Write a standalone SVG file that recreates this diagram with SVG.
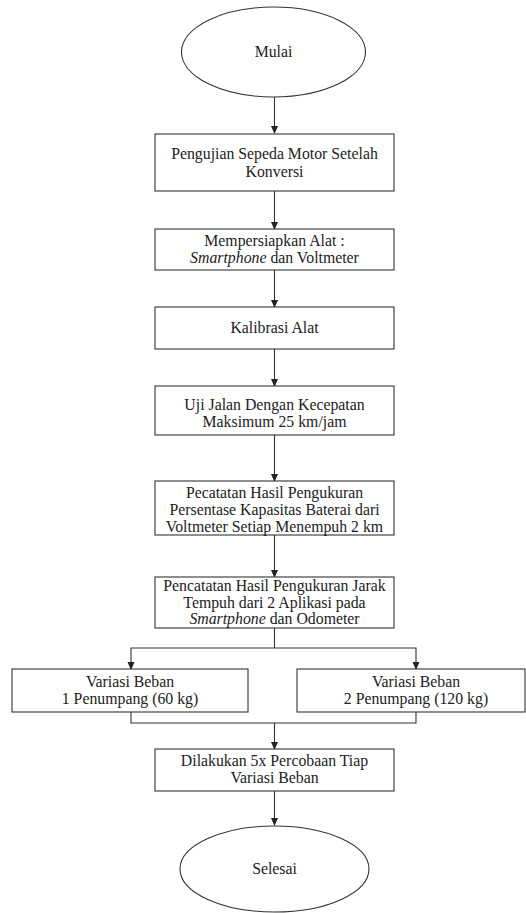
<svg xmlns="http://www.w3.org/2000/svg" width="526" height="913" viewBox="0 0 526 913">
<defs>
<marker id="ah" markerWidth="8" markerHeight="8" refX="7" refY="4" orient="auto" markerUnits="userSpaceOnUse">
<path d="M0,0.5 L8,4 L0,7.5 Z" fill="#222"/>
</marker>
<style>
.s{fill:#fff;stroke:#333;stroke-width:1.1}
.t{font-family:'Liberation Serif','Times New Roman',serif;font-size:15.8px;fill:#222;text-anchor:middle}
.c{fill:none;stroke:#333;stroke-width:1.1}
.a{fill:none;stroke:#333;stroke-width:1.1;marker-end:url(#ah)}
</style>
</defs>
<rect width="526" height="913" fill="#fff"/>
<g id="connectors">
<path class="a" d="M274.5,97 V133"/>
<path class="a" d="M274.5,191 V229"/>
<path class="a" d="M274.5,270 V307"/>
<path class="a" d="M274.5,349 V386"/>
<path class="a" d="M274.5,435 V481"/>
<path class="a" d="M274.5,535 V577"/>
<path class="c" d="M274.5,628 V648"/>
<path class="a" d="M274.5,648 H131 V669"/>
<path class="a" d="M274.5,648 H416 V669"/>
<path class="c" d="M131,712 V723 H416 V712"/>
<path class="a" d="M274.5,723 V749"/>
<path class="a" d="M274.5,791 V825"/>
</g>
<g id="mulai">
<ellipse class="s" cx="273.5" cy="52" rx="92" ry="45"/>
<text class="t" x="273.5" y="57">Mulai</text>
</g>
<g id="n1">
<rect class="s" x="155" y="134" width="239" height="57"/>
<text class="t" x="274.5" y="159">Pengujian Sepeda Motor Setelah</text>
<text class="t" x="274.5" y="177">Konversi</text>
</g>
<g id="n2">
<rect class="s" x="155" y="229" width="239" height="41"/>
<text class="t" x="274.5" y="246">Mempersiapkan Alat :</text>
<text class="t" x="274.5" y="263"><tspan font-style="italic">Smartphone</tspan> dan Voltmeter</text>
</g>
<g id="n3">
<rect class="s" x="155" y="307" width="239" height="42"/>
<text class="t" x="274.5" y="333">Kalibrasi Alat</text>
</g>
<g id="n4">
<rect class="s" x="155" y="386" width="239" height="49"/>
<text class="t" x="274.5" y="410">Uji Jalan Dengan Kecepatan</text>
<text class="t" x="274.5" y="427">Maksimum 25 km/jam</text>
</g>
<g id="n5">
<rect class="s" x="155" y="481" width="239" height="54"/>
<text class="t" x="274.5" y="498">Pecatatan Hasil Pengukuran</text>
<text class="t" x="274.5" y="515">Persentase Kapasitas Baterai dari</text>
<text class="t" x="274.5" y="532">Voltmeter Setiap Menempuh 2 km</text>
</g>
<g id="n6">
<rect class="s" x="155" y="577" width="239" height="51"/>
<text class="t" x="274.5" y="591">Pencatatan Hasil Pengukuran Jarak</text>
<text class="t" x="274.5" y="607.5">Tempuh dari 2 Aplikasi pada</text>
<text class="t" x="274.5" y="624"><tspan font-style="italic">Smartphone</tspan> dan Odometer</text>
</g>
<g id="n7a">
<rect class="s" x="12" y="669" width="236" height="43"/>
<text class="t" x="130" y="687">Variasi Beban</text>
<text class="t" x="130" y="704">1 Penumpang (60 kg)</text>
</g>
<g id="n7b">
<rect class="s" x="297" y="669" width="228" height="43"/>
<text class="t" x="416" y="687">Variasi Beban</text>
<text class="t" x="416" y="704">2 Penumpang (120 kg)</text>
</g>
<g id="n8">
<rect class="s" x="155" y="749" width="239" height="42"/>
<text class="t" x="274.5" y="766">Dilakukan 5x Percobaan Tiap</text>
<text class="t" x="274.5" y="783">Variasi Beban</text>
</g>
<g id="selesai">
<ellipse class="s" cx="274.5" cy="869" rx="94.5" ry="43"/>
<text class="t" x="274.5" y="874">Selesai</text>
</g>
</svg>
